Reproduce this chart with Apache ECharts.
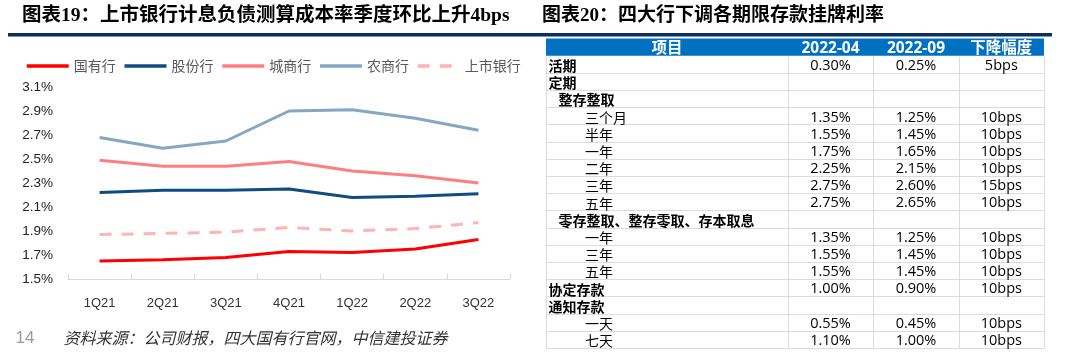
<!DOCTYPE html>
<html><head><meta charset="utf-8">
<script src="https://cdn.jsdelivr.net/npm/echarts@6/dist/echarts.min.js"></script>
<style>html,body{margin:0;padding:0;background:#fff}#c{width:1065px;height:358px}</style>
</head><body><div id="c"></div>
<script>
// ---- line chart data ----
const quarters = ['1Q21','2Q21','3Q21','4Q21','1Q22','2Q22','3Q22'];
const stateOwned = [1.65,1.66,1.68,1.73,1.72,1.75,1.83];
const jointStock = [2.22,2.24,2.24,2.25,2.18,2.19,2.21];
const cityComm   = [2.49,2.44,2.44,2.48,2.40,2.36,2.30];
const ruralComm  = [2.68,2.59,2.65,2.90,2.91,2.84,2.74];
const listedBanks= [1.87,1.88,1.89,1.93,1.90,1.92,1.97];
const seriesNames = ['国有行','股份行','城商行','农商行','上市银行'];

// ---- table data ----
const tableHeader = ['项目','2022-04','2022-09','下降幅度'];
const rowLabels = ['活期','定期','整存整取','三个月','半年','一年','二年','三年','五年',
  '零存整取、整存零取、存本取息','一年','三年','五年','协定存款','通知存款','一天','七天'];
const rowLevels = [0,0,1,2,2,2,2,2,2,1,2,2,2,0,0,2,2];
const rateApr = [0.30,null,null,1.35,1.55,1.75,2.25,2.75,2.75,null,1.35,1.55,1.55,1.00,null,0.55,1.10];
const rateSep = [0.25,null,null,1.25,1.45,1.65,2.15,2.60,2.65,null,1.25,1.45,1.45,0.90,null,0.45,1.00];
const cutBps  = [5,null,null,10,10,10,10,15,10,null,10,10,10,10,null,10,10];

const CJK = '"Noto Sans CJK SC"';
const NUM = '"Open Sans", "Noto Sans CJK SC"';
const colEdges = [0, 0.4855, 0.6571, 0.8287, 1];
const indents = [2.5, 12.5, 39];

function renderRow(params, api) {
  const r = api.value(1);
  const yc = api.coord([0, r])[1];
  const h = api.size([0, 1])[1];
  const top = yc - h / 2;
  const xs = colEdges.map(e => api.coord([e, r])[0]);
  const ch = [];
  if (r === 0) {
    ch.push({type:'rect', shape:{x:xs[0], y:top, width:xs[4]-xs[0], height:h}, style:{fill:'#0070C0'}});
    tableHeader.forEach((t, i) => ch.push({type:'text', style:{
      text:t, x:(xs[i]+xs[i+1])/2, y:yc+1, align:'center', verticalAlign:'middle',
      fill:'#fff', font:'bold 15.5px ' + NUM}}));
    return {type:'group', children:ch};
  }
  const i = r - 1;
  const bottom = Math.round(top + h) + 0.5;
  const tp = Math.round(top) + 0.5;
  const ls = {stroke:'#dcdcdc', lineWidth:1};
  ch.push({type:'line', shape:{x1:xs[0], y1:bottom, x2:xs[4], y2:bottom}, style:ls});
  [0,1,2,3,4].forEach(k => {
    const x = Math.round(xs[k]) + 0.5;
    ch.push({type:'line', shape:{x1:x, y1:tp, x2:x, y2:bottom}, style:ls});
  });
  const lvl = rowLevels[i];
  ch.push({type:'text', style:{text:rowLabels[i], x:xs[0]+indents[lvl], y:yc+1.5,
    align:'left', verticalAlign:'middle', fill:'#000',
    font:(lvl < 2 ? 'bold ' : '') + '14px ' + CJK}});
  const vals = [
    rateApr[i] == null ? '' : rateApr[i].toFixed(2) + '%',
    rateSep[i] == null ? '' : rateSep[i].toFixed(2) + '%',
    cutBps[i] == null ? '' : cutBps[i] + 'bps'
  ];
  vals.forEach((t, k) => {
    if (!t) return;
    ch.push({type:'text', style:{text:t, x:(xs[k+1]+xs[k+2])/2, y:yc+1.5,
      align:'center', verticalAlign:'middle', fill:'#000', font:'14.5px ' + NUM}});
  });
  return {type:'group', children:ch};
}

const chart = echarts.init(document.getElementById('c'), null, {renderer:'canvas'});
const lineColors = ['#FF0000','#0F4C81','#FF7F7F','#84A7C2','#FFB3B3'];
const lineData = [stateOwned, jointStock, cityComm, ruralComm, listedBanks];

chart.setOption({
  backgroundColor:'#fff',
  animation:false,
  legend:{
    data:seriesNames, left:20, top:54, itemWidth:42, itemHeight:14, itemGap:7,
    selectedMode:false,
    itemStyle:{opacity:0, borderWidth:0},
    lineStyle:{width:3.5},
    textStyle:{fontSize:14, color:'#595959', fontFamily:CJK}
  },
  grid:[
    {left:68, top:87, width:442, height:192},
    {left:546, top:38.5, width:498, height:309.5}
  ],
  xAxis:[
    {type:'category', gridIndex:0, data:quarters, boundaryGap:true,
     axisLine:{lineStyle:{color:'#d9d9d9', width:1}},
     axisTick:{show:true, inside:true, length:5, lineStyle:{color:'#d9d9d9'}},
     axisLabel:{color:'#333', fontSize:13, fontFamily:'"Liberation Sans", Arial', margin:18},
     splitLine:{show:false}},
    {type:'value', gridIndex:1, min:0, max:1, show:false}
  ],
  yAxis:[
    {type:'value', gridIndex:0, min:1.5, max:3.1, interval:0.1,
     axisLine:{show:false}, axisTick:{show:false}, splitLine:{show:false},
     axisLabel:{color:'#222', fontSize:13.5, fontFamily:'"Liberation Sans", Arial', margin:15,
       formatter:v => { const k = Math.round(v*10); return k % 2 === 1 ? (k/10).toFixed(1) + '%' : ''; }}},
    {type:'category', gridIndex:1, inverse:true, show:false,
     data:['header'].concat(rowLabels.map((l, i) => i + ':' + l))}
  ],
  series: seriesNames.map((n, k) => ({
    name:n, type:'line', xAxisIndex:0, yAxisIndex:0, data:lineData[k],
    symbol:'none', showSymbol:false, smooth:false,
    lineStyle:{color:lineColors[k], width:3, type: k === 4 ? [12,10] : 'solid'},
    itemStyle:{color:lineColors[k]}
  })).concat([{
    type:'custom', xAxisIndex:1, yAxisIndex:1, silent:true, clip:false,
    renderItem:renderRow,
    data:['header'].concat(rowLabels).map((_, r) => [0.5, r])
  }]),
  graphic:[
    {type:'rect', left:8, top:33, shape:{width:1044, height:3.5}, style:{fill:'#0B2F5E'}, silent:true},
    {type:'text', x:22, y:16, style:{text:'图表19：上市银行计息负债测算成本率季度环比上升4bps',
      font:'bold 19.5px "Liberation Serif", "Noto Sans CJK SC"', fill:'#000', verticalAlign:'middle'}},
    {type:'text', x:542, y:16, style:{text:'图表20：四大行下调各期限存款挂牌利率',
      font:'bold 19px "Liberation Serif", "Noto Sans CJK SC"', fill:'#000', verticalAlign:'middle'}},
    {type:'text', x:15.5, y:338, style:{text:'14', font:'17px "Liberation Sans"', fill:'#9a9a9a', verticalAlign:'middle'}},
    {type:'text', x:63.5, y:338, style:{text:'资料来源：公司财报，四大国有行官网，中信建投证券',
      font:'italic 16px "Noto Sans CJK SC"', fill:'#333', verticalAlign:'middle'}}
  ]
});
</script></body></html>
